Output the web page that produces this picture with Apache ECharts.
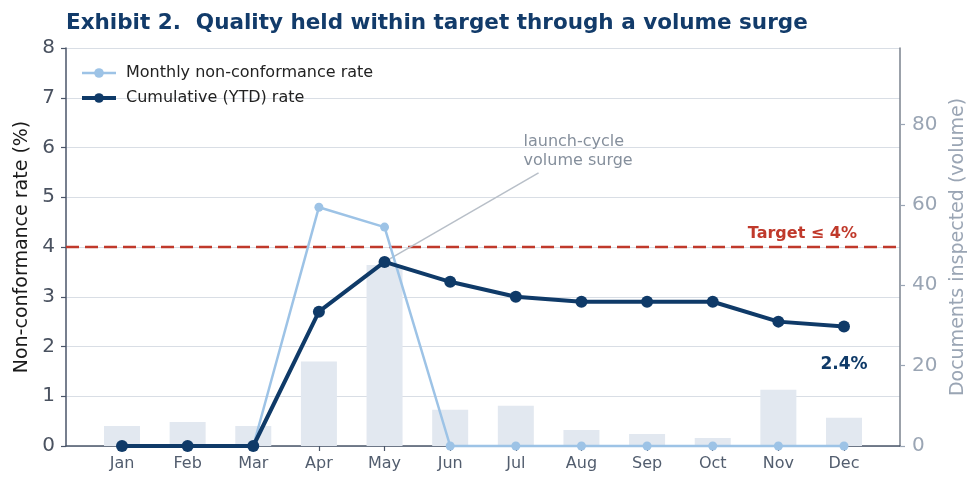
<!DOCTYPE html>
<html>
<head>
<meta charset="utf-8">
<script src="https://cdn.jsdelivr.net/npm/echarts@6/dist/echarts.min.js"></script>
<style>
  html, body { margin: 0; padding: 0; background: #fff; }
  #main { width: 979px; height: 490px; }
</style>
</head>
<body>
<div id="main"></div>
<script>
// data
var months = ['Jan', 'Feb', 'Mar', 'Apr', 'May', 'Jun', 'Jul', 'Aug', 'Sep', 'Oct', 'Nov', 'Dec'];
var volume = [5, 6, 5, 21, 45, 9, 10, 4, 3, 2, 14, 7];
var monthlyRate = [0, 0, 0, 4.8, 4.4, 0, 0, 0, 0, 0, 0, 0];
var cumulativeRate = [0, 0, 0, 2.7, 3.7, 3.3, 3.0, 2.9, 2.9, 2.9, 2.5, 2.4];
var target = 4;
var rateTicks = [0, 1, 2, 3, 4, 5, 6, 7, 8];
var volumeTicks = [0, 20, 40, 60, 80];

var font = 'DejaVu Sans';
var navy = '#0f3a68';
var lightBlue = '#9dc3e6';
var red = '#c0392b';

var myChart = echarts.init(document.getElementById('main'));

var cumData = cumulativeRate.map(function (v, i) {
    if (i === cumulativeRate.length - 1) {
        return {
            value: v,
            label: {
                show: true, position: 'bottom', distance: 23,
                formatter: v.toFixed(1) + '%',
                fontFamily: font, fontSize: 17, fontWeight: 'bold', color: navy
            }
        };
    }
    return v;
});

var option = {
    animation: false,
    backgroundColor: '#fff',
    textStyle: { fontFamily: font },
    title: {
        text: 'Exhibit 2.  Quality held within target through a volume surge',
        left: 66, top: 12, padding: 0,
        textStyle: { fontFamily: font, fontSize: 21.5, fontWeight: 'bold', color: '#123b6a' }
    },
    legend: {
        left: 80, top: 65, orient: 'vertical', padding: 0,
        itemWidth: 34, itemHeight: 12, itemGap: 9,
        textStyle: { fontFamily: font, fontSize: 16, color: '#222', padding: [0, 0, 0, 5] },
        data: [
            { name: 'Monthly non-conformance rate', lineStyle: { width: 2.5 } },
            { name: 'Cumulative (YTD) rate', lineStyle: { width: 4 } }
        ]
    },
    grid: [
        { left: 66, right: 79, top: 48, bottom: 44 },
        { left: 122, right: 135, top: 48, bottom: 44 }
    ],
    xAxis: [
        {
            gridIndex: 0, type: 'value', min: 0, max: 1,
            axisLine: { show: true, lineStyle: { color: '#4a5568', width: 1.5 } },
            axisTick: { show: false }, axisLabel: { show: false }, splitLine: { show: false }
        },
        {
            gridIndex: 1, type: 'category', data: months, boundaryGap: false,
            axisLine: { show: false },
            axisTick: { show: true, length: 5, lineStyle: { color: '#4a5568', width: 1.2 } },
            axisLabel: { fontFamily: font, fontSize: 16, color: '#525d6e', margin: 10 },
            splitLine: { show: false }
        }
    ],
    yAxis: [
        {
            gridIndex: 0, type: 'value', position: 'left', min: 0, max: 8, interval: 1,
            name: 'Non-conformance rate (%)', nameLocation: 'middle', nameGap: 34,
            nameTextStyle: { fontFamily: font, fontSize: 19, color: '#1a1a1a' },
            axisLine: { show: true, lineStyle: { color: '#4a5568', width: 1.5 } },
            axisTick: { show: true, length: 5, lineStyle: { color: '#4a5568', width: 1.2 } },
            axisLabel: { fontFamily: font, fontSize: 20, color: '#4a5260', margin: 11, customValues: rateTicks },
            splitLine: { show: true, lineStyle: { color: '#d9dee5', width: 1.2 } }
        },
        {
            gridIndex: 0, type: 'value', position: 'right', min: 0, max: 99,
            name: 'Documents inspected (volume)', nameLocation: 'middle', nameGap: 43,
            nameRotate: 90,
            nameTextStyle: { fontFamily: font, fontSize: 19, color: '#9aa5b4' },
            axisLine: { show: true, lineStyle: { color: '#7a828e', width: 1.5 } },
            axisTick: { show: true, length: 5, lineStyle: { color: '#9aa5b4', width: 1.2 }, customValues: volumeTicks },
            axisLabel: { fontFamily: font, fontSize: 20, color: '#9aa5b4', margin: 12, customValues: volumeTicks },
            splitLine: { show: false }
        },
        { gridIndex: 1, type: 'value', min: 0, max: 8, show: false },
        { gridIndex: 1, type: 'value', min: 0, max: 99, show: false }
    ],
    series: [
        {
            name: 'Documents inspected', type: 'bar',
            xAxisIndex: 1, yAxisIndex: 3,
            data: volume, barWidth: 36, clip: false, z: 1,
            itemStyle: { color: '#e2e8f0' }
        },
        {
            name: 'Target', type: 'line',
            xAxisIndex: 0, yAxisIndex: 0,
            data: [[0, target], [1, target]],
            symbol: 'none', silent: true, z: 2,
            lineStyle: { color: red, width: 2.5, type: [13, 6] }
        },
        {
            name: 'Cumulative (YTD) rate', type: 'line',
            xAxisIndex: 1, yAxisIndex: 2,
            data: cumData, clip: false, z: 4,
            symbol: 'circle', symbolSize: 12,
            lineStyle: { color: navy, width: 4 },
            itemStyle: { color: navy }
        },
        {
            name: 'Monthly non-conformance rate', type: 'line',
            xAxisIndex: 1, yAxisIndex: 2,
            data: monthlyRate, clip: false, z: 3,
            symbol: 'circle', symbolSize: 9,
            lineStyle: { color: lightBlue, width: 2.5 },
            itemStyle: { color: lightBlue }
        }
    ]
};

myChart.setOption(option);

// annotations placed from the axes
var mayPt = myChart.convertToPixel({ xAxisIndex: 1, yAxisIndex: 2 }, ['May', cumulativeRate[4]]);
var targetY = myChart.convertToPixel({ yAxisIndex: 0 }, target);
var rightEdge = myChart.convertToPixel({ xAxisIndex: 0 }, 1);

myChart.setOption({
    graphic: [
        {
            type: 'line', z: 3, silent: true,
            shape: { x1: mayPt[0], y1: mayPt[1], x2: mayPt[0] + 154, y2: mayPt[1] - 89 },
            style: { stroke: '#b8bfc8', lineWidth: 1.5 }
        },
        {
            type: 'text', z: 5, silent: true,
            x: mayPt[0] + 139, y: mayPt[1] - 130,
            style: {
                text: 'launch-cycle\nvolume surge',
                fontFamily: font, fontSize: 16, fill: '#858f9c', lineHeight: 19,
                align: 'left', verticalAlign: 'top'
            }
        },
        {
            type: 'text', z: 5, silent: true,
            x: rightEdge - 43, y: targetY - 5,
            style: {
                text: 'Target \u2264 4%',
                fontFamily: font, fontSize: 16, fontWeight: 'bold', fill: red,
                align: 'right', verticalAlign: 'bottom'
            }
        }
    ]
});
</script>
</body>
</html>
